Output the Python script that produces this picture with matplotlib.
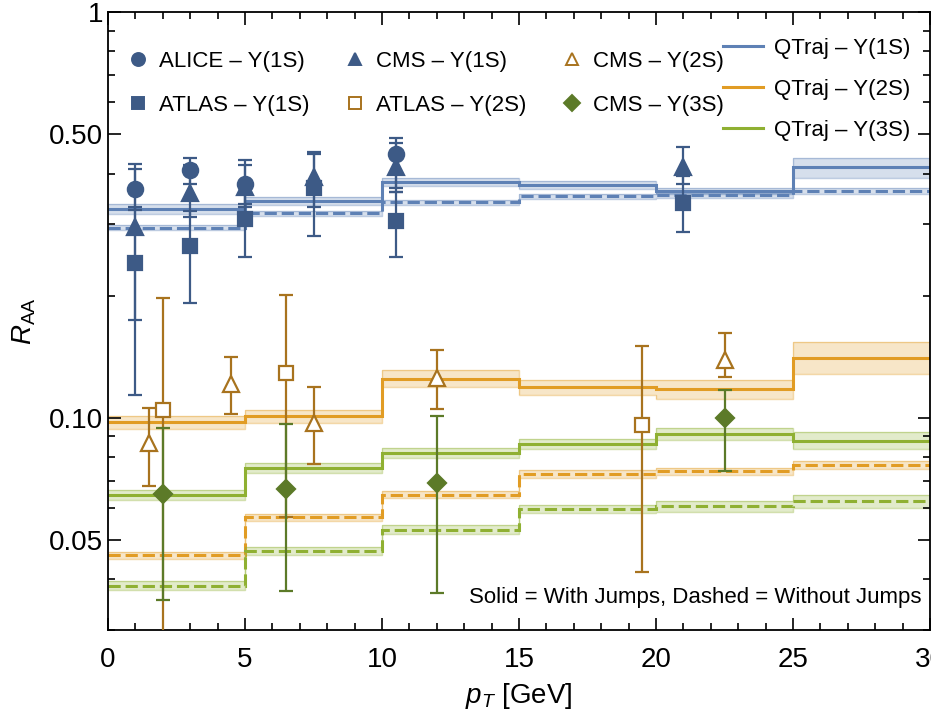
import matplotlib
matplotlib.use('Agg')
import matplotlib.pyplot as plt
from matplotlib.lines import Line2D
from matplotlib.ticker import FixedLocator, LogLocator, MultipleLocator, NullFormatter
import numpy as np

plt.rcParams['font.family'] = ['Liberation Sans', 'DejaVu Sans']
plt.rcParams['mathtext.fontset'] = 'custom'
plt.rcParams['mathtext.rm'] = 'Liberation Sans'
plt.rcParams['mathtext.it'] = 'Liberation Sans:italic'

# ---- experimental data (value, lower, upper) ----
alice_1s_x = [1, 3, 5, 10.5]
alice_1s_y = [0.366, 0.407, 0.378, 0.446]
alice_1s_lo = [0.325, 0.377, 0.336, 0.368]
alice_1s_hi = [0.411, 0.437, 0.432, 0.489]

cms_1s_x = [1, 3, 5, 7.5, 10.5, 21]
cms_1s_y = [0.296, 0.358, 0.370, 0.393, 0.416, 0.416]
cms_1s_lo = [0.174, 0.313, 0.330, 0.330, 0.361, 0.377]
cms_1s_hi = [0.423, 0.420, 0.420, 0.453, 0.476, 0.465]

atlas_1s_x = [1, 3, 5, 7.5, 10.5, 21]
atlas_1s_y = [0.241, 0.265, 0.309, 0.368, 0.306, 0.339]
atlas_1s_lo = [0.114, 0.192, 0.249, 0.281, 0.249, 0.287]
atlas_1s_hi = [0.330, 0.324, 0.360, 0.447, 0.360, 0.395]

cms_2s_x = [1.5, 4.5, 7.5, 12, 22.5]
cms_2s_y = [0.0866, 0.121, 0.0973, 0.125, 0.139]
cms_2s_lo = [0.068, 0.102, 0.0769, 0.105, 0.126]
cms_2s_hi = [0.106, 0.141, 0.119, 0.147, 0.162]

atlas_2s_x = [2, 6.5, 19.5]
atlas_2s_y = [0.1046, 0.129, 0.0958]
atlas_2s_lo = [0.020, 0.057, 0.0416]
atlas_2s_hi = [0.197, 0.201, 0.150]

cms_3s_x = [2, 6.5, 12, 22.5]
cms_3s_y = [0.065, 0.0667, 0.069, 0.0998]
cms_3s_lo = [0.0356, 0.0374, 0.037, 0.074]
cms_3s_hi = [0.0946, 0.0966, 0.1008, 0.117]

# ---- QTraj predictions, pT bins ----
pt_edges = [0, 5, 10, 15, 20, 25, 30]

q1s_jump = [0.327, 0.342, 0.381, 0.375, 0.362, 0.415]
q1s_jump_lo = [0.318, 0.334, 0.372, 0.367, 0.356, 0.389]
q1s_jump_hi = [0.336, 0.350, 0.390, 0.383, 0.369, 0.436]
q1s_nojump = [0.294, 0.319, 0.340, 0.352, 0.354, 0.362]
q1s_nojump_lo = [0.290, 0.315, 0.335, 0.347, 0.349, 0.356]
q1s_nojump_hi = [0.298, 0.323, 0.345, 0.357, 0.359, 0.368]

q2s_jump = [0.0974, 0.101, 0.1248, 0.1188, 0.1177, 0.1408]
q2s_jump_lo = [0.0937, 0.0972, 0.119, 0.114, 0.111, 0.128]
q2s_jump_hi = [0.1008, 0.1048, 0.131, 0.124, 0.124, 0.154]
q2s_nojump = [0.0458, 0.0568, 0.0646, 0.0727, 0.0738, 0.0766]
q2s_nojump_lo = [0.0449, 0.0557, 0.0633, 0.0712, 0.0722, 0.0748]
q2s_nojump_hi = [0.0467, 0.0579, 0.0659, 0.0742, 0.0754, 0.0784]

q3s_jump = [0.0646, 0.0752, 0.0821, 0.0863, 0.0913, 0.0879]
q3s_jump_lo = [0.0628, 0.0731, 0.0798, 0.0838, 0.0880, 0.0838]
q3s_jump_hi = [0.0664, 0.0773, 0.0844, 0.0888, 0.0946, 0.0920]
q3s_nojump = [0.0386, 0.0469, 0.0530, 0.0596, 0.0605, 0.0622]
q3s_nojump_lo = [0.0377, 0.0458, 0.0517, 0.0581, 0.0587, 0.0598]
q3s_nojump_hi = [0.0395, 0.0480, 0.0543, 0.0611, 0.0623, 0.0646]

BLUE, ORANGE, GREEN = '#5E81B5', '#E19C24', '#8FB032'
D_BLUE, D_ORANGE, D_GREEN = '#3D5A86', '#A8731E', '#5C7A28'

fig = plt.figure(figsize=(9.31, 7.11), dpi=100)
ax = fig.add_axes([0.116, 0.114, 0.883, 0.869])

def band(mid, lo, hi, color, ls):
    ax.stairs(hi, pt_edges, baseline=lo, fill=True, color=color, alpha=0.25, lw=0)
    ax.stairs(lo, pt_edges, baseline=None, color=color, alpha=0.4, lw=1.0)
    ax.stairs(hi, pt_edges, baseline=None, color=color, alpha=0.4, lw=1.0)
    line = ax.stairs(mid, pt_edges, baseline=None, color=color, lw=2.2)
    if ls == 'dashed':
        line.set_linestyle((0, (4.0, 1.6)))

band(q1s_jump, q1s_jump_lo, q1s_jump_hi, BLUE, 'solid')
band(q1s_nojump, q1s_nojump_lo, q1s_nojump_hi, BLUE, 'dashed')
band(q2s_jump, q2s_jump_lo, q2s_jump_hi, ORANGE, 'solid')
band(q2s_nojump, q2s_nojump_lo, q2s_nojump_hi, ORANGE, 'dashed')
band(q3s_jump, q3s_jump_lo, q3s_jump_hi, GREEN, 'solid')
band(q3s_nojump, q3s_nojump_lo, q3s_nojump_hi, GREEN, 'dashed')

def data(x, y, lo, hi, color, marker, ms, filled, label):
    y = np.array(y)
    yerr = [y - np.array(lo), np.array(hi) - y]
    ax.errorbar(x, y, yerr=yerr, fmt=marker, color=color, ms=ms,
                mfc=color if filled else 'white', mec=color, mew=1.6,
                elinewidth=1.6, capsize=5, capthick=1.6, zorder=5)
    return Line2D([], [], ls='none', marker=marker, ms=ms * 0.85, color=color,
                  mfc=color if filled else 'white', mec=color, mew=1.4, label=label)

h_alice = data(alice_1s_x, alice_1s_y, alice_1s_lo, alice_1s_hi, D_BLUE, 'o', 11, True, 'ALICE – Υ(1S)')
h_cms1 = data(cms_1s_x, cms_1s_y, cms_1s_lo, cms_1s_hi, D_BLUE, '^', 11, True, 'CMS – Υ(1S)')
h_atlas1 = data(atlas_1s_x, atlas_1s_y, atlas_1s_lo, atlas_1s_hi, D_BLUE, 's', 9.5, True, 'ATLAS – Υ(1S)')
h_cms2 = data(cms_2s_x, cms_2s_y, cms_2s_lo, cms_2s_hi, D_ORANGE, '^', 11, False, 'CMS – Υ(2S)')
h_atlas2 = data(atlas_2s_x, atlas_2s_y, atlas_2s_lo, atlas_2s_hi, D_ORANGE, 's', 9.5, False, 'ATLAS – Υ(2S)')
h_cms3 = data(cms_3s_x, cms_3s_y, cms_3s_lo, cms_3s_hi, D_GREEN, 'D', 9, True, 'CMS – Υ(3S)')

ax.set_yscale('log')
ax.set_xlim(0, 30)
ax.set_ylim(0.03, 1)
ax.yaxis.set_major_locator(FixedLocator([0.05, 0.1, 0.5, 1]))
ax.set_yticklabels(['0.05', '0.10', '0.50', '1'])
ax.yaxis.set_minor_locator(LogLocator(base=10, subs=np.arange(1, 10)))
ax.yaxis.set_minor_formatter(NullFormatter())
ax.xaxis.set_major_locator(MultipleLocator(5))
ax.xaxis.set_minor_locator(MultipleLocator(1))
ax.tick_params(which='both', direction='in', top=True, right=True, labelsize=20, width=1.2)
ax.tick_params(which='major', length=9)
ax.tick_params(which='minor', length=5)
ax.tick_params(axis='x', pad=12)
for s in ax.spines.values():
    s.set_linewidth(1.3)

ax.set_xlabel(r'$p_T$ [GeV]', fontsize=20, labelpad=6)
ax.set_ylabel(r'$R_{\rm AA}$', fontsize=20, labelpad=8)

leg1 = ax.legend(handles=[h_alice, h_atlas1, h_cms1, h_atlas2, h_cms2, h_cms3],
                 ncol=3, loc='upper left', bbox_to_anchor=(0.0, 0.97), frameon=False,
                 fontsize=16, handlelength=0.9, handletextpad=0.5, columnspacing=1.6,
                 labelspacing=1.05)
ax.add_artist(leg1)
line_handles = [Line2D([], [], color=c, lw=2.2) for c in (BLUE, ORANGE, GREEN)]
ax.legend(line_handles, ['QTraj – Υ(1S)', 'QTraj – Υ(2S)', 'QTraj – Υ(3S)'],
          loc='upper right', bbox_to_anchor=(1.0, 0.99), frameon=False, fontsize=16,
          handlelength=1.8, handletextpad=0.5, labelspacing=0.9)

ax.text(0.99, 0.035, 'Solid = With Jumps, Dashed = Without Jumps', transform=ax.transAxes,
        ha='right', va='bottom', fontsize=16)

fig.savefig('out.png', dpi=100)
